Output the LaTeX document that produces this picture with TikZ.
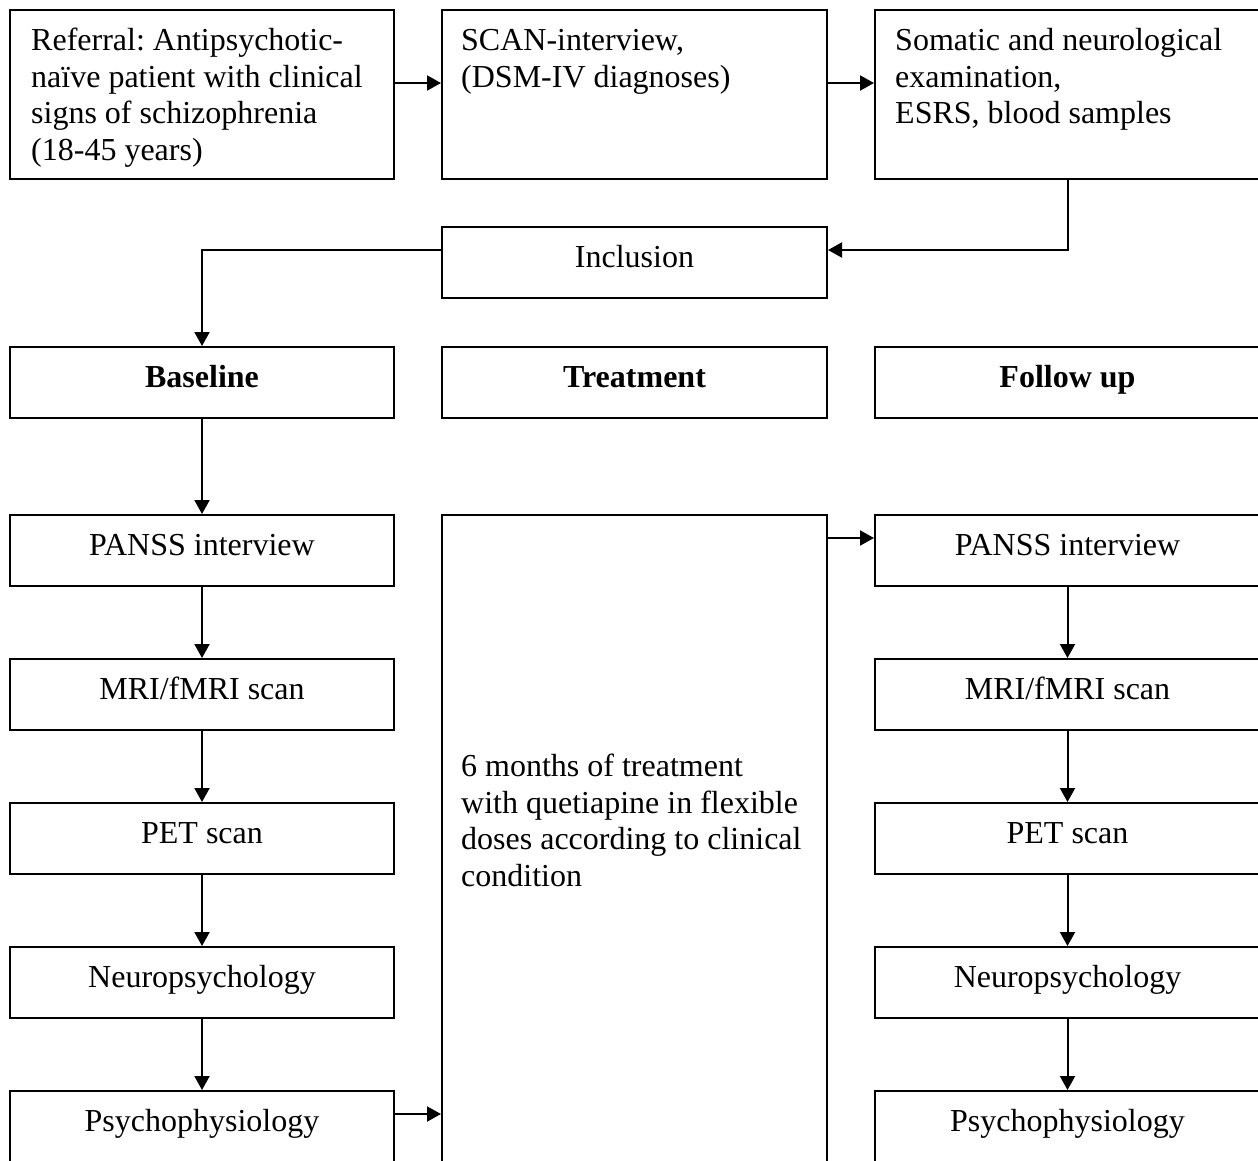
\documentclass[tikz,border=0pt]{standalone}
\usepackage{fontspec}
\setmainfont{Liberation Serif}
\usetikzlibrary{arrows.meta}
\newcommand{\myfirst}{\rule{0pt}{30pt}}
\frenchspacing
\begin{document}
\begin{tikzpicture}[x=1pt,y=-1pt,
  box/.style={draw, line width=2pt, rectangle, inner sep=0pt, minimum width=#1},
  box/.default=385pt,
  lbl/.style={inner sep=0pt, font=\fontsize{32}{36.8}\selectfont\frenchspacing, anchor=base},
  mtxt/.style={inner sep=0pt, font=\fontsize{32}{36.8}\selectfont\frenchspacing, anchor=north west, align=left},
  arr/.style={line width=2pt, -{Triangle[length=14pt,width=15pt]}},
  con/.style={line width=2pt}]
\useasboundingbox (0,0) rectangle (1258,1160);
\fill[white] (0,0) rectangle (1258,1160);
\clip (0,0) rectangle (1258,1160);

% top row
\node[box=384pt, minimum height=169pt] (ref) at (202,94.5) {};
\node[box, minimum height=169pt] (scan) at (634.5,94.5) {};
\node[box, minimum height=169pt] (som) at (1067.5,94.5) {};
\node[mtxt] (reft) at ([xshift=22pt,yshift=-11pt]ref.north west)
  {\myfirst Referral: Antipsychotic-\\na\"ive patient with clinical\\signs of schizophrenia\\(18-45 years)};
\node[mtxt] (scant) at ([xshift=20pt,yshift=-11pt]scan.north west)
  {\myfirst SCAN-interview,\\(DSM-IV diagnoses)};
\node[mtxt] (somt) at ([xshift=21pt,yshift=-11pt]som.north west)
  {\myfirst Somatic and neurological\\examination,\\ESRS, blood samples};

% inclusion
\node[box, minimum height=71pt] (incl) at (634.5,262.5) {};
\node[lbl] (inclt) at ([yshift=-41pt]incl.north) {Inclusion};

% headers
\node[box=384pt, minimum height=71pt] (base) at (202,382.5) {};
\node[box, minimum height=71pt] (treath) at (634.5,382.5) {};
\node[box, minimum height=71pt] (fol) at (1067.5,382.5) {};
\node[lbl] (baset) at ([yshift=-41pt]base.north) {\bfseries Baseline};
\node[lbl] (treatht) at ([yshift=-41pt]treath.north) {\bfseries Treatment};
\node[lbl] (folt) at ([yshift=-41pt]fol.north) {\bfseries Follow up};

% left column
\node[box=384pt, minimum height=71pt] (p1) at (202,550.5) {};
\node[box=384pt, minimum height=71pt] (m1) at (202,694.5) {};
\node[box=384pt, minimum height=71pt] (e1) at (202,838.5) {};
\node[box=384pt, minimum height=71pt] (n1) at (202,982.5) {};
\node[box=384pt, minimum height=90pt] (s1) at (202,1136) {};
% right column
\node[box, minimum height=71pt] (p2) at (1067.5,550.5) {};
\node[box, minimum height=71pt] (m2) at (1067.5,694.5) {};
\node[box, minimum height=71pt] (e2) at (1067.5,838.5) {};
\node[box, minimum height=71pt] (n2) at (1067.5,982.5) {};
\node[box, minimum height=90pt] (s2) at (1067.5,1136) {};

\foreach \c in {1,2}{
  \node[lbl] at ([yshift=-41pt]p\c.north) {PANSS interview};
  \node[lbl] at ([yshift=-41pt]m\c.north) {MRI/fMRI scan};
  \node[lbl] at ([yshift=-41pt]e\c.north) {PET scan};
  \node[lbl] at ([yshift=-41pt]n\c.north) {Neuropsychology};
  \node[lbl] at ([yshift=-41pt]s\c.north) {Psychophysiology};
}

% treatment box
\node[box, minimum height=685pt] (treat) at (634.5,857.5) {};
\node[mtxt] (treatt) at ([xshift=20pt,yshift=-232pt]treat.north west)
  {\myfirst 6 months of treatment\\with quetiapine in flexible\\doses according to clinical\\condition};

% connectors
\draw[arr] ([yshift=-74pt]ref.north east) -- ([yshift=-74pt]scan.north west);
\draw[arr] ([yshift=-74pt]scan.north east) -- ([yshift=-74pt]som.north west);
\coordinate (ci) at ([yshift=-24pt]incl.north east);
\coordinate (co) at ([yshift=-24pt]incl.north west);
\draw[arr] (som.south) |- (ci);
\draw[arr] (co) -| (base.north);
\draw[arr] (base.south) -- (p1.north);
\draw[arr] (p1.south) -- (m1.north);
\draw[arr] (m1.south) -- (e1.north);
\draw[arr] (e1.south) -- (n1.north);
\draw[arr] (n1.south) -- (s1.north);
\draw[arr] (p2.south) -- (m2.north);
\draw[arr] (m2.south) -- (e2.north);
\draw[arr] (e2.south) -- (n2.north);
\draw[arr] (n2.south) -- (s2.north);
\coordinate (cs) at ([yshift=-24pt]s1.north east);
\draw[arr] (cs) -- (cs -| treat.west);
\coordinate (ct) at ([yshift=-24pt]treat.north east);
\draw[arr] (ct) -- (ct -| p2.west);
\end{tikzpicture}
\end{document}
